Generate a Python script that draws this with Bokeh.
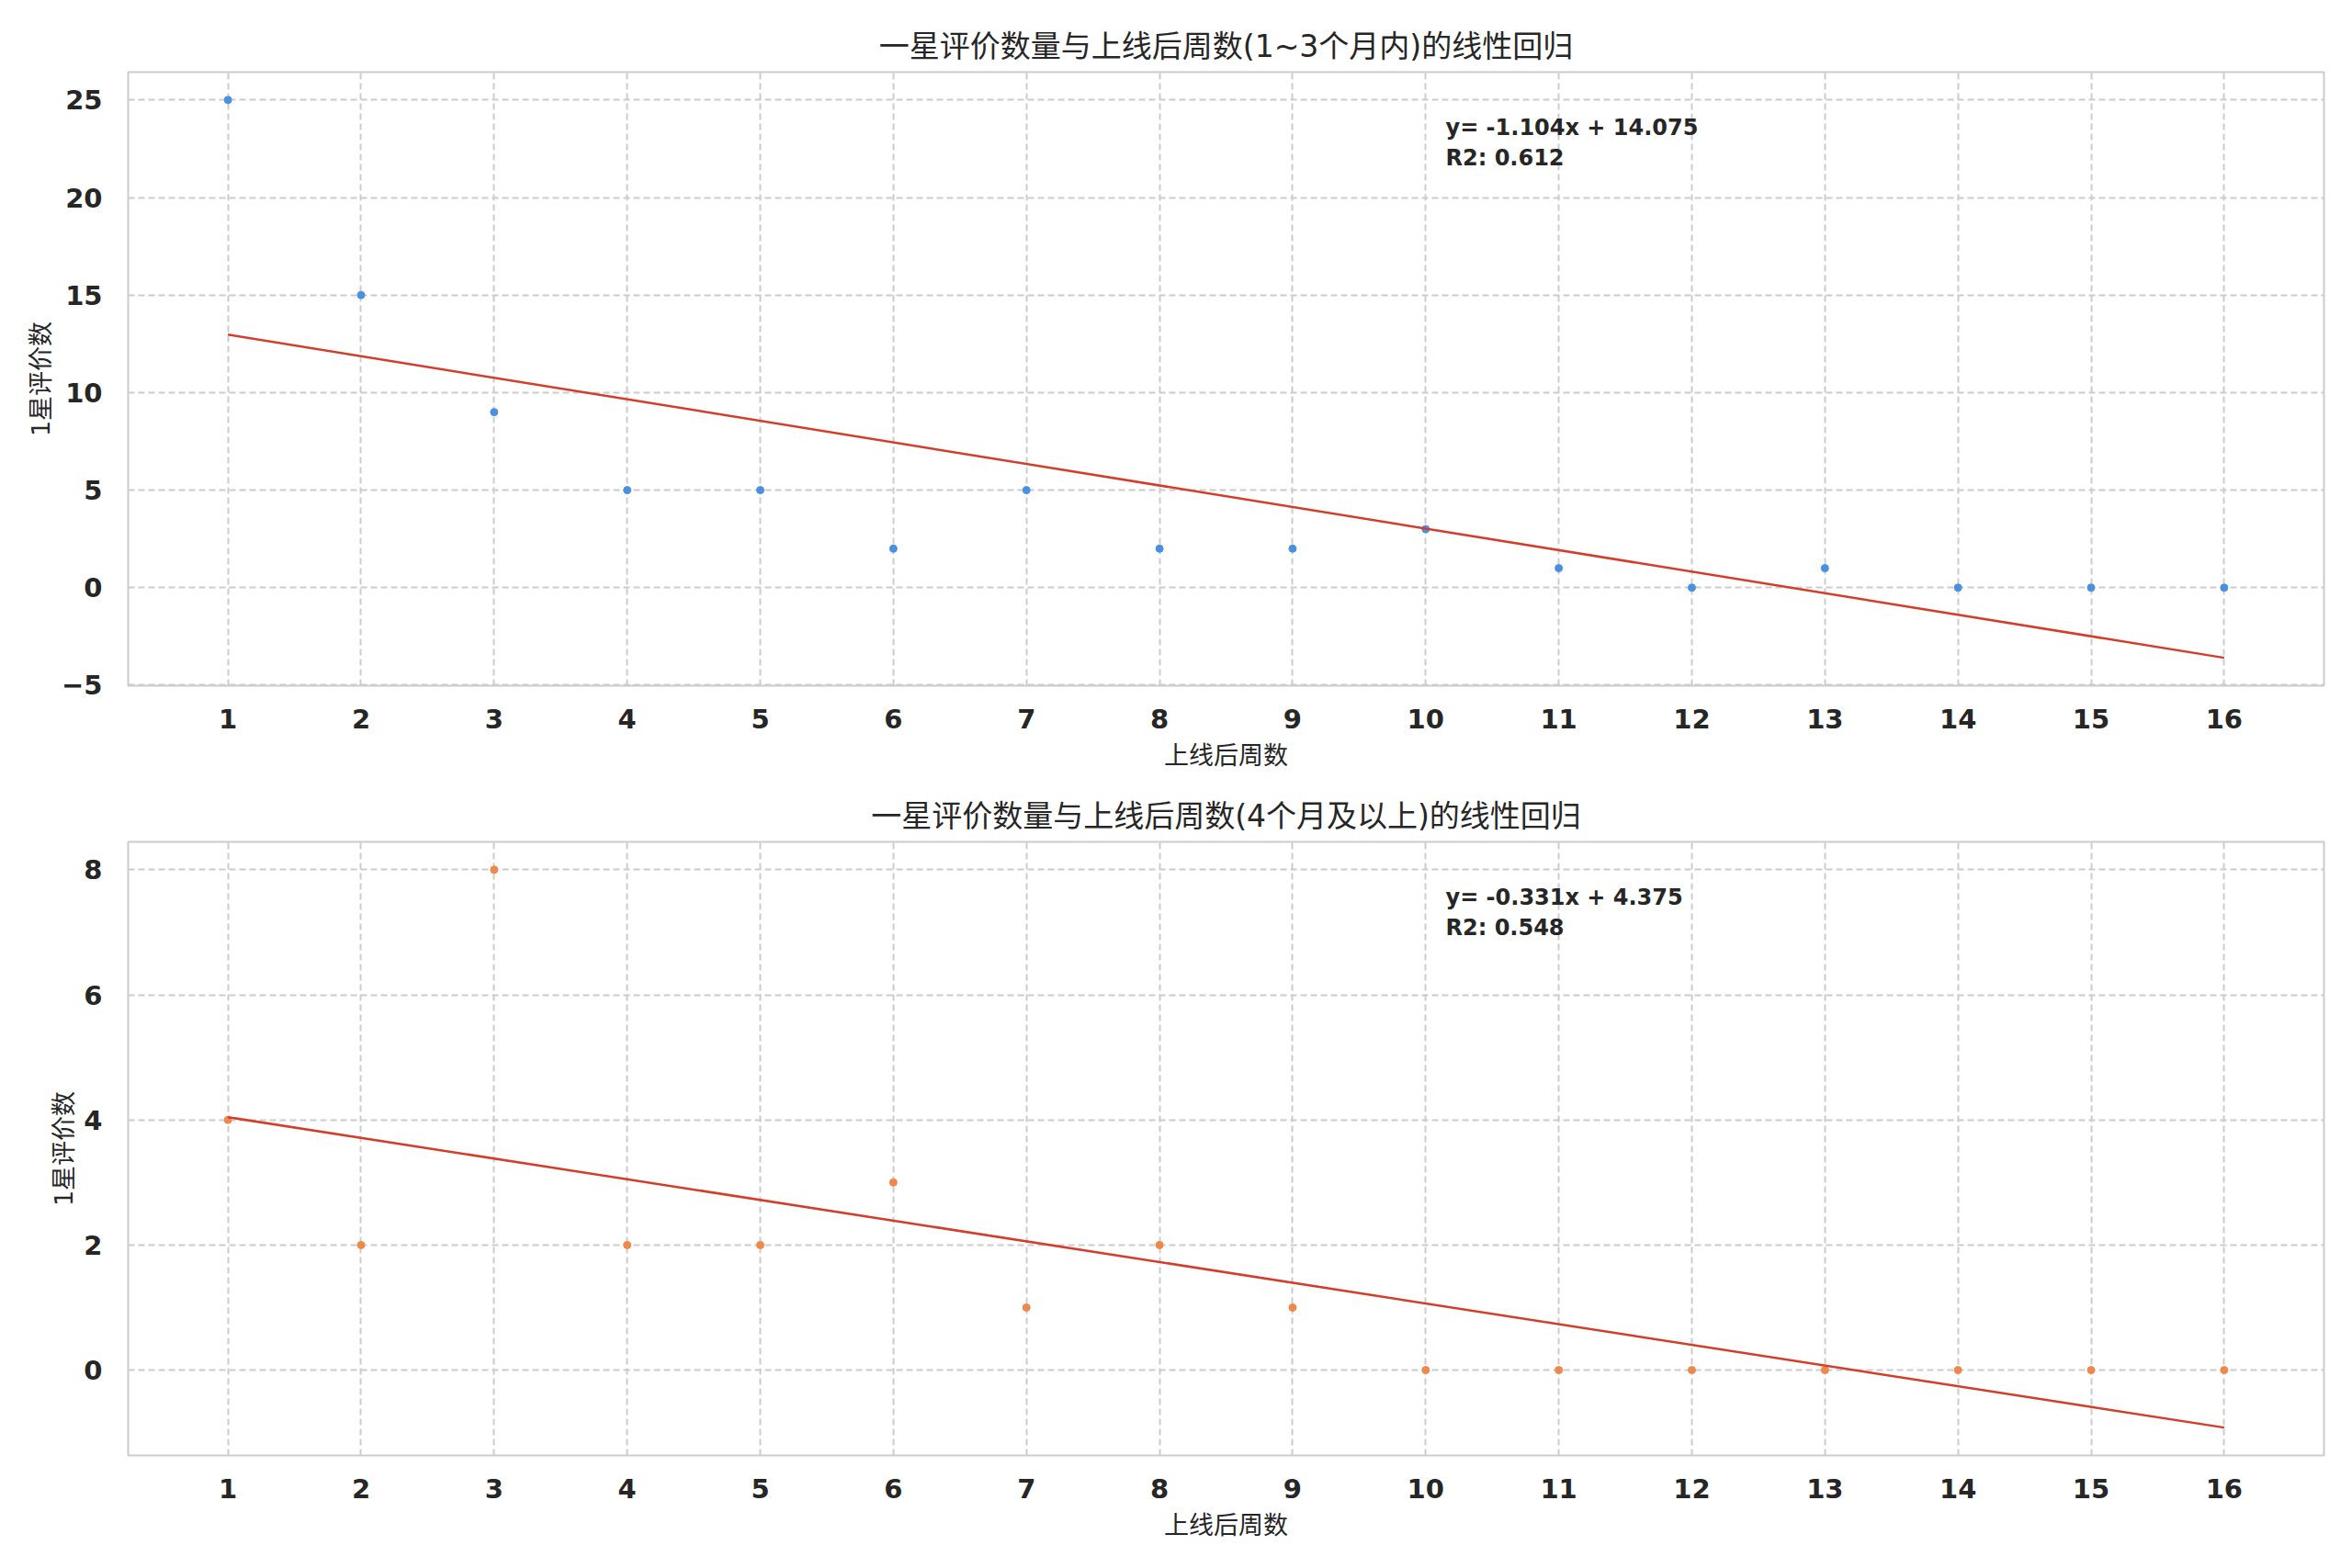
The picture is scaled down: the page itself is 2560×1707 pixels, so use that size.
import numpy as np
from bokeh.plotting import figure
from bokeh.layouts import column
from bokeh.models import Range1d, FixedTicker, Label
from bokeh.embed import file_html
from bokeh.resources import INLINE

# ---- data ----
weeks = list(range(1, 17))
group1_counts = [25, 15, 9, 5, 5, 2, 5, 2, 2, 3, 1, 0, 1, 0, 0, 0]
group2_counts = [4, 2, 8, 2, 2, 3, 1, 2, 1, 0, 0, 0, 0, 0, 0, 0]
title1 = "一星评价数量与上线后周数(1~3个月内)的线性回归"
title2 = "一星评价数量与上线后周数(4个月及以上)的线性回归"
x_label = "上线后周数"
y_label = "1星评价数"
x_ticks = list(range(1, 17))
y_ticks1 = [-5, 0, 5, 10, 15, 20, 25]
y_ticks2 = [0, 2, 4, 6, 8]

FONT = "DejaVu Sans, Noto Sans CJK SC"
TXT = "#262626"


def make_panel(title, counts, color, yticks, b_top, b_bottom, ylab_standoff):
    x = np.array(weeks, dtype=float)
    y = np.array(counts, dtype=float)
    slope, intercept = np.polyfit(x, y, 1)
    r2 = np.corrcoef(x, y)[0, 1] ** 2
    lx = [x[0], x[-1]]
    ly = [intercept + slope * v for v in lx]

    xs, xe = x.min(), x.max()
    xp = 0.05 * (xe - xs)
    ys = min(y.min(), min(ly))
    ye = max(y.max(), max(ly))
    yp = 0.05 * (ye - ys)
    xr = Range1d(xs - xp, xe + xp)
    yr = Range1d(ys - yp, ye + yp)

    p = figure(width=2544, height=b_top + 668 + b_bottom, x_range=xr, y_range=yr,
               output_backend="svg", toolbar_location=None,
               min_border_left=139, min_border_right=15,
               min_border_top=b_top, min_border_bottom=b_bottom,
               background_fill_color="white", border_fill_color="white")
    p.title.text = title
    p.title.align = "center"
    p.title.text_font = FONT
    p.title.text_font_size = "33px"
    p.title.text_font_style = "normal"
    p.title.text_color = TXT
    p.title.standoff = 17

    p.outline_line_color = "#cccccc"
    p.outline_line_width = 2

    p.xaxis.ticker = FixedTicker(ticks=x_ticks)
    p.yaxis.ticker = FixedTicker(ticks=yticks)
    for ax in (p.xaxis, p.yaxis):
        ax.axis_line_color = None
        ax.major_tick_line_color = None
        ax.minor_tick_line_color = None
        ax.major_label_text_font = FONT
        ax.major_label_text_font_size = "29px"
        ax.major_label_text_font_style = "bold"
        ax.major_label_text_color = TXT
        ax.axis_label_text_font = FONT
        ax.axis_label_text_font_size = "27px"
        ax.axis_label_text_font_style = "normal"
        ax.axis_label_text_color = TXT
    p.xaxis.major_label_standoff = 19
    p.yaxis.major_label_standoff = 22
    p.xaxis.axis_label = x_label
    p.yaxis.axis_label = y_label
    p.xaxis.axis_label_standoff = 11
    p.yaxis.axis_label_standoff = ylab_standoff

    for g in (p.xgrid, p.ygrid):
        g.grid_line_color = "#cccccc"
        g.grid_line_width = 2
        g.grid_line_dash = "7 4"

    p.scatter(weeks, counts, size=8, color=color, line_color=color)
    p.line(lx, ly, line_color="#d43d2a", line_width=2.5)

    x0, x1 = xr.start, xr.end
    y0, y1 = yr.start, yr.end
    lab_x = x0 + 0.6 * (x1 - x0)
    lines = [f"y= {slope:.3f}x + {intercept:.3f}", f"R2: {r2:.3f}"]
    for txt, f in zip(lines, [0.090, 0.140]):
        p.add_layout(Label(x=lab_x, y=y1 - f * (y1 - y0), text=txt,
                           text_font=FONT, text_font_size="24px",
                           text_font_style="bold", text_color=TXT,
                           text_baseline="alphabetic", text_align="left"))
    return p


p1 = make_panel(title1, group1_counts, "#4a90e2", y_ticks1, 78, 107, 4)
p2 = make_panel(title2, group2_counts, "#f0884a", y_ticks2, 63, 114, 3)
layout = column(p1, p2, spacing=0)

open("out.html", "w").write(file_html(layout, INLINE))
